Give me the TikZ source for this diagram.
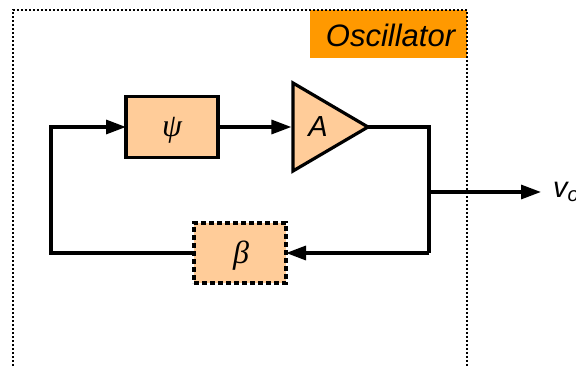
\documentclass[tikz,border=0pt]{standalone}
\usepackage{fontspec}
\setmainfont{Liberation Sans}
\newfontfamily\grkfont{Liberation Serif}
\usetikzlibrary{arrows.meta}
\definecolor{peach}{HTML}{FFCC99}
\definecolor{orangelab}{HTML}{FF9900}
\begin{document}
\begin{tikzpicture}[x=1pt,y=-1pt,
  blk/.style={draw,line width=3.2pt,fill=peach,minimum width=92pt,minimum height=61pt,inner sep=0pt,outer sep=0pt},
  wire/.style={line width=3.2pt,line join=miter},
  arr/.style={wire,-{Triangle[length=20pt,width=14pt]}},
  lbl/.style={font=\fontsize{29}{31}\selectfont\itshape,inner sep=0pt},
  grk/.style={font=\fontsize{32}{34}\selectfont\grkfont\itshape,inner sep=0pt}]
\useasboundingbox (0,0) rectangle (576,366);
% label background
\fill[orangelab] (310,10) rectangle (467,58);
\node[lbl,font=\fontsize{31}{33}\selectfont\itshape] (osc) at (390.5,35) {Oscillator};
% outer dotted box
\draw[line width=2pt,dash pattern=on 2pt off 2pt] (13,370) -- (13,10) -- (467,10) -- (467,370);
% blocks
\node[blk] (psi) at (172,127) {};
\node[grk] (psit) at (172,130) {ψ};
\node[blk,dash pattern=on 5pt off 3pt,minimum height=60pt] (beta) at (240,253) {};
\node[grk] (betat) at (241,256) {β};
\coordinate (ampin) at (293,127);
\coordinate (ampout) at (368,127);
\draw[line width=3.2pt,fill=peach,line join=miter] (293,83) -- (ampout) -- (293,171) -- cycle;
\node[lbl] (ampt) at (318,127) {A};
% coordinates
\coordinate (lt) at (51,127);
\coordinate (lb) at (51,253);
\coordinate (rt) at (429,127);
\coordinate (rj) at (429,192);
\coordinate (rb) at (429,253);
\coordinate (out) at (541,192);
% connectors
\draw[arr] (beta.west) -- (lb) -- (lt) -- (psi.west);
\draw[arr] (psi.east) -- ([xshift=-1.6pt]ampin);
\draw[wire] (ampout) -- (rt) -- (rb);
\draw[arr] (rb) -- (beta.east);
\draw[arr] (rj) -- (out);
\node[lbl,anchor=base west] (vo) at (553,198) {v\textsubscript{o}};
\end{tikzpicture}
\end{document}
